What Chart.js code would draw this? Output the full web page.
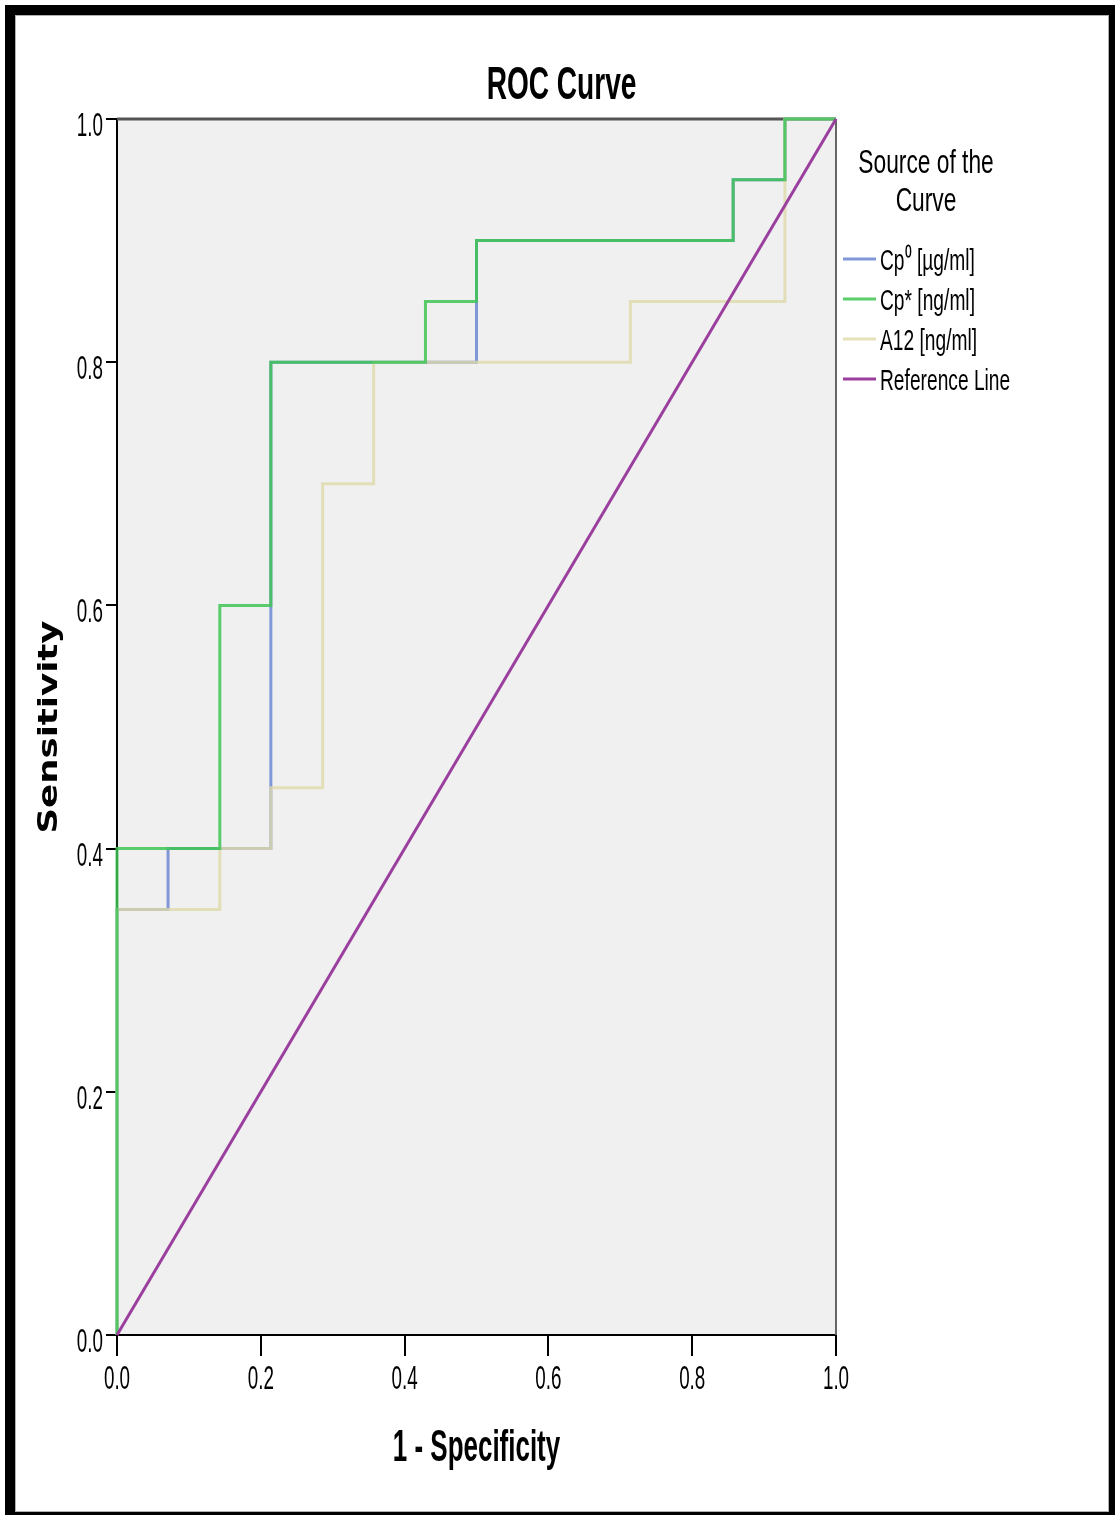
<!DOCTYPE html>
<html>
<head>
<meta charset="utf-8">
<title>ROC Curve</title>
<script src="https://cdn.jsdelivr.net/npm/chart.js@4.4.1/dist/chart.umd.min.js"></script>
<style>
  html, body { margin: 0; padding: 0; background: #fff; }
  #wrap { position: relative; width: 1115px; height: 1515px; overflow: hidden; }
  #roc { display: block; }
  #frame {
    position: absolute; left: 5px; top: 5px; right: 0; bottom: 0;
    border-style: solid; border-color: #000; border-width: 10px 6px 3px 10px;
    box-shadow: inset 0 0 0 1px #b0b0b0; pointer-events: none;
  }
</style>
</head>
<body>
<div id="wrap">
  <canvas id="roc" width="1115" height="1515"></canvas>
  <div id="frame"></div>
</div>
<script>
// ROC coordinates: 1 - specificity (x) and sensitivity (y), one corner per point
const cp0Fpr = [0, 0, 0.071, 0.071, 0.214, 0.214, 0.5, 0.5, 0.857, 0.857, 0.929, 0.929, 1];
const cp0Tpr = [0, 0.35, 0.35, 0.4, 0.4, 0.8, 0.8, 0.9, 0.9, 0.95, 0.95, 1, 1];

const cpStarFpr = [0, 0, 0.143, 0.143, 0.214, 0.214, 0.429, 0.429, 0.5, 0.5, 0.857, 0.857, 0.929, 0.929, 1];
const cpStarTpr = [0, 0.4, 0.4, 0.6, 0.6, 0.8, 0.8, 0.85, 0.85, 0.9, 0.9, 0.95, 0.95, 1, 1];

const a12Fpr = [0, 0, 0.143, 0.143, 0.214, 0.214, 0.286, 0.286, 0.357, 0.357, 0.714, 0.714, 0.929, 0.929, 1];
const a12Tpr = [0, 0.35, 0.35, 0.4, 0.4, 0.45, 0.45, 0.7, 0.7, 0.8, 0.8, 0.85, 0.85, 1, 1];

const refFpr = [0, 1];
const refTpr = [0, 1];

const seriesNames = ['Cp\u2070 [\u00b5g/ml]', 'Cp* [ng/ml]', 'A12 [ng/ml]', 'Reference Line'];
const seriesColors = ['rgba(122,146,214,0.95)', 'rgba(62,196,84,0.85)', 'rgba(222,218,170,0.8)', '#9b3f9e'];
const tickValues = [0, 0.2, 0.4, 0.6, 0.8, 1.0];

const FONT = '"Liberation Sans", Arial, sans-serif';

function pts(xs, ys) {
  return xs.map((x, i) => ({ x: x, y: ys[i] }));
}

// text squeezed horizontally to get the narrow look
function narrowText(ctx, text, x, y, font, sx, align) {
  ctx.save();
  ctx.font = font;
  ctx.fillStyle = '#000';
  ctx.textAlign = align;
  ctx.textBaseline = 'alphabetic';
  ctx.translate(x, y);
  ctx.scale(sx, 1);
  ctx.fillText(text, 0, 0);
  ctx.restore();
}

const frameAndText = {
  id: 'frameAndText',
  beforeDraw(chart) {
    const { ctx, chartArea: a } = chart;
    ctx.save();
    ctx.fillStyle = '#f0f0f0';
    ctx.fillRect(a.left, a.top, a.right - a.left, a.bottom - a.top);
    ctx.restore();
  },
  beforeDatasetsDraw(chart) {
    const { ctx, chartArea: a } = chart;
    ctx.save();
    ctx.strokeStyle = '#555';
    ctx.lineWidth = 3;
    ctx.beginPath();
    ctx.moveTo(a.left, a.top);
    ctx.lineTo(a.right, a.top);
    ctx.stroke();
    ctx.strokeStyle = '#666';
    ctx.lineWidth = 2;
    ctx.beginPath();
    ctx.moveTo(a.right, a.top);
    ctx.lineTo(a.right, a.bottom);
    ctx.stroke();
    ctx.restore();
  },
  afterDraw(chart) {
    const { ctx, chartArea: a } = chart;
    const xs = chart.scales.x, ys = chart.scales.y;
    const cx = (a.left + a.right) / 2;

    // title, centred on the whole figure
    narrowText(ctx, 'ROC Curve', chart.width / 2 + 4, 99, 'bold 46px ' + FONT, 0.61, 'center');

    // tick labels
    tickValues.forEach(v => {
      narrowText(ctx, v.toFixed(1), 103, ys.getPixelForValue(v) + 17, '33px ' + FONT, 0.57, 'right');
      narrowText(ctx, v.toFixed(1), xs.getPixelForValue(v), 1389, '33px ' + FONT, 0.57, 'center');
    });

    // axis titles
    narrowText(ctx, '1 - Specificity', cx, 1461, 'bold 44px ' + FONT, 0.59, 'center');
    ctx.save();
    ctx.font = 'bold 26px "DejaVu Sans", Verdana, sans-serif';
    const stretch = 213 / ctx.measureText('Sensitivity').width;
    ctx.fillStyle = '#000';
    ctx.textAlign = 'center';
    ctx.textBaseline = 'alphabetic';
    ctx.translate(57, 727);
    ctx.rotate(-Math.PI / 2);
    ctx.scale(stretch, 1);
    ctx.fillText('Sensitivity', 0, 0);
    ctx.restore();

    // legend
    narrowText(ctx, 'Source of the', 926, 173, '33px ' + FONT, 0.69, 'center');
    narrowText(ctx, 'Curve', 926, 211, '33px ' + FONT, 0.69, 'center');
    chart.data.datasets.forEach((ds, i) => {
      const y = 259 + i * 40;
      ctx.save();
      ctx.strokeStyle = ds.borderColor;
      ctx.lineWidth = 3;
      ctx.beginPath();
      ctx.moveTo(843, y);
      ctx.lineTo(876, y);
      ctx.stroke();
      ctx.restore();
      narrowText(ctx, ds.label, 880, y + 11, '30px ' + FONT, 0.64, 'left');
    });
  }
};

const lineSet = (i, data, order) => ({
  label: seriesNames[i],
  data: data,
  borderColor: seriesColors[i],
  borderWidth: 3,
  pointRadius: 0,
  showLine: true,
  fill: false,
  tension: 0,
  clip: 4,
  order: order
});

const ctx = document.getElementById('roc').getContext('2d');
const rocChart = new Chart(ctx, {
  type: 'scatter',
  data: {
    datasets: [
      lineSet(0, pts(cp0Fpr, cp0Tpr), 3),
      lineSet(1, pts(cpStarFpr, cpStarTpr), 1),
      lineSet(2, pts(a12Fpr, a12Tpr), 2),
      lineSet(3, pts(refFpr, refTpr), 0)
    ]
  },
  options: {
    responsive: false,
    animation: false,
    devicePixelRatio: 1,
    layout: { padding: { left: 0, top: 119, right: 279, bottom: 180 } },
    plugins: {
      legend: { display: false },
      title: { display: false },
      tooltip: { enabled: false }
    },
    scales: {
      x: {
        type: 'linear',
        min: 0,
        max: 1,
        afterFit(scale) { scale.height = 0; },
        afterBuildTicks(scale) { scale.ticks = tickValues.map(v => ({ value: v })); },
        ticks: { display: false },
        grid: { drawOnChartArea: false, drawTicks: true, tickLength: 21, color: '#000', lineWidth: 2 },
        border: { display: true, color: '#000', width: 2 }
      },
      y: {
        type: 'linear',
        min: 0,
        max: 1,
        afterFit(scale) { scale.width = 117; },
        afterBuildTicks(scale) { scale.ticks = tickValues.map(v => ({ value: v })); },
        ticks: { display: false },
        grid: { drawOnChartArea: false, drawTicks: true, tickLength: 11, color: '#000', lineWidth: 2 },
        border: { display: true, color: '#000', width: 2 }
      }
    }
  },
  plugins: [frameAndText]
});
</script>
</body>
</html>
